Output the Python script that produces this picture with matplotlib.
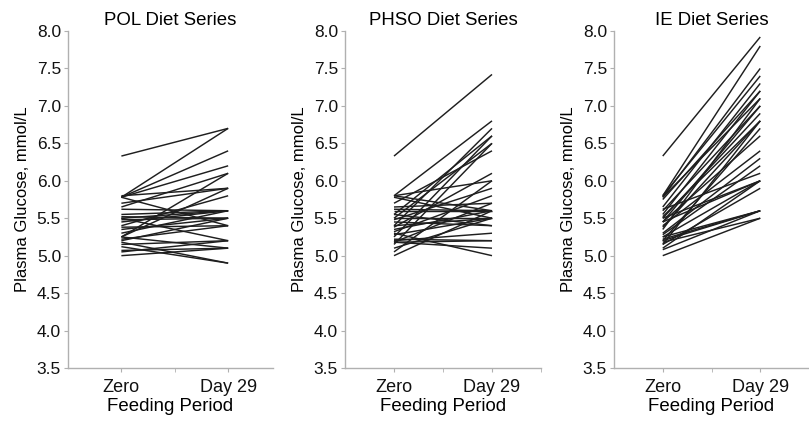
import matplotlib
matplotlib.use('Agg')
import matplotlib.pyplot as plt

plt.rcParams['font.family'] = ['Liberation Sans', 'DejaVu Sans']

periods = ['Zero', 'Day 29']
titles = ['POL Diet Series', 'PHSO Diet Series', 'IE Diet Series']

# POL: glucose at zero and day 29, one pair per animal
pol_zero = [6.33, 5.78, 5.78, 5.78, 5.80, 5.78, 5.70, 5.65, 5.62, 5.55,
            5.52, 5.50, 5.50, 5.48, 5.45, 5.40, 5.38, 5.35, 5.30, 5.25,
            5.25, 5.25, 5.22, 5.20, 5.18, 5.15, 5.12, 5.07, 5.05, 5.00]
pol_day29 = [6.70, 6.70, 6.40, 6.20, 5.90, 5.40, 5.90, 6.10, 5.60, 5.60,
             5.50, 5.60, 5.20, 5.50, 5.60, 5.80, 5.40, 5.50, 5.60, 6.10,
             5.90, 5.10, 5.40, 5.50, 4.90, 5.20, 4.90, 5.10, 5.20, 5.10]

phso_zero = [6.33, 5.80, 5.80, 5.78, 5.80, 5.70, 5.65, 5.62, 5.60, 5.55,
             5.50, 5.50, 5.48, 5.45, 5.40, 5.38, 5.35, 5.32, 5.30, 5.28,
             5.25, 5.22, 5.20, 5.18, 5.18, 5.15, 5.10, 5.05, 5.00, 5.18,
             5.40, 5.55]
phso_day29 = [7.42, 6.80, 6.00, 5.50, 5.60, 6.40, 5.70, 5.60, 5.60, 6.60,
              6.50, 5.50, 5.90, 5.40, 6.70, 6.10, 5.60, 5.80, 5.00, 5.50,
              6.60, 5.20, 5.30, 5.70, 5.20, 6.50, 5.50, 6.00, 5.60, 5.10,
              5.50, 5.40]

ie_zero = [6.33, 5.80, 5.78, 5.80, 5.75, 5.78, 5.65, 5.60, 5.62, 5.55,
           5.52, 5.50, 5.50, 5.45, 5.45, 5.40, 5.38, 5.35, 5.30, 5.28,
           5.25, 5.22, 5.20, 5.20, 5.18, 5.15, 5.10, 5.08, 5.00, 5.25,
           5.15, 5.45]
ie_day29 = [7.92, 7.80, 7.50, 7.40, 7.20, 7.10, 7.30, 7.00, 6.10, 7.20,
            6.80, 6.90, 6.00, 7.00, 6.60, 6.40, 6.80, 7.10, 6.30, 6.20,
            6.00, 5.60, 5.60, 6.70, 5.50, 5.90, 6.00, 5.60, 5.50, 5.60,
            6.80, 6.00]

series = [(pol_zero, pol_day29), (phso_zero, phso_day29), (ie_zero, ie_day29)]

W, H = 809, 423
boxes = [(68, 205), (345, 196), (614, 195)]
xright = [1.42, 1.5, 1.5]
yticks = [3.5 + 0.5 * i for i in range(10)]

fig = plt.figure(figsize=(W / 100, H / 100), dpi=100)
for i in range(3):
    left, width = boxes[i]
    ax = fig.add_axes([left / W, 55 / H, width / W, 337 / H])
    z, d = series[i]
    for a, b in zip(z, d):
        ax.plot([0, 1], [a, b], color='#1f1f1f', lw=1.05, solid_capstyle='butt')
    ax.set_xlim(-0.5, xright[i])
    ax.set_ylim(3.5, 8.0)
    ax.set_yticks(yticks)
    ax.set_yticklabels(['%.1f' % v for v in yticks])
    ax.set_xticks([0, 1])
    ax.set_xticklabels(periods)
    ax.set_xticks([0.5] + ([1.5] if xright[i] >= 1.5 else []), minor=True)
    for s in ['top', 'right']:
        ax.spines[s].set_visible(False)
    for s in ['left', 'bottom']:
        ax.spines[s].set_color('#b0b0b0')
        ax.spines[s].set_linewidth(1.0)
    ax.tick_params(which='both', colors='#b0b0b0', length=3, labelcolor='#111111',
                   labelsize=12.5, pad=2)
    ax.tick_params(axis='x', labelsize=13, pad=5)
    ax.set_title(titles[i], fontsize=13.4, pad=4)
    ax.set_xlabel('Feeding Period', fontsize=13.4, labelpad=1)
    ax.set_ylabel('Plasma Glucose, mmol/L', fontsize=12, labelpad=5)

fig.savefig('out.png', dpi=100, facecolor='white')
